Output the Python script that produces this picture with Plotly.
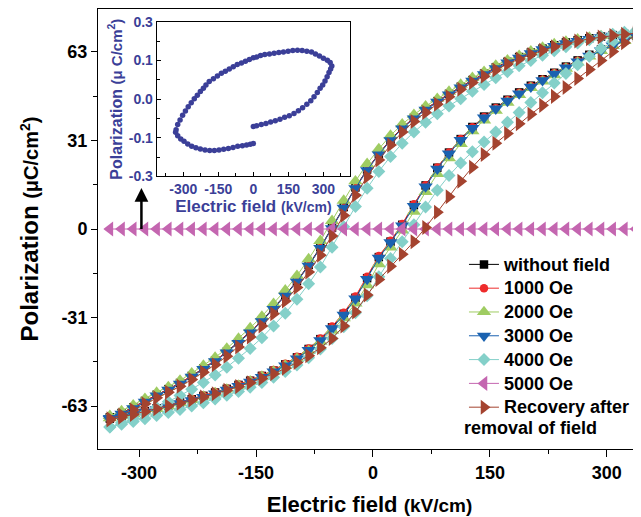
import plotly.graph_objects as go

FONT = "Liberation Sans, Arial, sans-serif"
NAVY = "#3b3f98"

# Electric field grid (kV/cm) shared by all main-plot loops
field = [-337.5, -322.5, -307.5, -292.5, -277.5, -262.5, -247.5, -232.5, -217.5, -202.5,
         -187.5, -172.5, -157.5, -142.5, -127.5, -112.5, -97.5, -82.5, -67.5, -52.5,
         -37.5, -22.5, -7.5, 7.5, 22.5, 37.5, 52.5, 67.5, 82.5, 97.5,
         112.5, 127.5, 142.5, 157.5, 172.5, 187.5, 202.5, 217.5, 232.5, 247.5,
         262.5, 277.5, 292.5, 307.5, 322.5, 337.5]

# Polarization (uC/cm2): "inc" = rising-field branch, "dec" = falling-field branch (both listed in field order)
nofield_inc = [-67.5, -66.6, -65.7, -64.8, -63.8, -62.8, -61.7, -60.6, -59.4, -58.2, -56.9, -55.5, -54.0, -52.3, -50.4, -48.2,
               -45.7, -42.7, -39.2, -35.0, -30.2, -24.5, -17.5, -10.0, -4.5, 1.5, 8.5, 15.5, 21.8, 27.2, 32.0, 36.3,
               40.0, 43.2, 46.0, 48.6, 51.0, 53.3, 55.6, 57.8, 60.0, 62.0, 63.9, 65.6, 67.3, 69.0]
nofield_dec = [-67.0, -65.5, -63.5, -61.2, -59.0, -57.0, -54.8, -52.3, -49.6, -46.8, -43.7, -40.3, -36.6, -32.6, -28.2, -23.5,
               -18.5, -12.8, -6.5, 0.5, 7.8, 14.8, 21.2, 26.8, 31.8, 36.0, 39.6, 42.7, 45.5, 48.1, 50.6, 53.0,
               55.3, 57.5, 59.5, 61.2, 62.8, 64.2, 65.4, 66.4, 67.2, 67.9, 68.5, 69.0, 69.4, 69.7]

oe1000_inc = [-67.3, -66.5, -65.5, -64.6, -63.7, -62.6, -61.6, -60.4, -59.3, -58.0, -56.8, -55.3, -53.8, -52.1, -50.2, -48.0,
              -45.5, -42.5, -39.0, -34.7, -29.8, -24.0, -17.0, -9.6, -4.2, 1.8, 8.8, 15.6, 21.9, 27.2, 32.0, 36.2,
              39.9, 43.1, 45.9, 48.5, 50.9, 53.2, 55.5, 57.7, 59.9, 61.9, 63.8, 65.5, 67.2, 68.9]
oe1000_dec = [-67.2, -65.6, -63.6, -61.3, -59.1, -57.1, -54.9, -52.4, -49.7, -46.9, -43.8, -40.4, -36.7, -32.7, -28.4, -23.7,
              -18.7, -13.0, -6.8, 0.2, 7.5, 14.6, 21.0, 26.7, 31.7, 35.9, 39.5, 42.6, 45.4, 48.0, 50.5, 52.9,
              55.2, 57.4, 59.4, 61.1, 62.7, 64.1, 65.3, 66.3, 67.1, 67.8, 68.4, 68.9, 69.3, 69.6]

oe2000_inc = [-67.3, -66.6, -65.8, -64.9, -64.0, -63.0, -61.9, -60.8, -59.6, -58.4, -57.1, -55.7, -54.2, -52.5, -50.7, -48.6,
              -46.2, -43.4, -40.1, -36.2, -31.7, -26.5, -20.0, -12.5, -6.5, -0.5, 6.2, 13.2, 19.6, 25.2, 30.3, 34.8,
              38.7, 42.1, 45.0, 47.7, 50.2, 52.5, 54.8, 57.1, 59.3, 61.4, 63.4, 65.2, 67.0, 68.8]
oe2000_dec = [-66.5, -64.8, -62.7, -60.4, -58.2, -56.2, -53.9, -51.3, -48.6, -45.7, -42.5, -39.0, -35.2, -31.1, -26.6, -21.8,
              -16.6, -10.7, -4.2, 2.9, 10.1, 17.0, 23.2, 28.5, 33.3, 37.3, 40.7, 43.7, 46.4, 48.9, 51.4, 53.8,
              56.0, 58.2, 60.1, 61.7, 63.3, 64.6, 65.8, 66.7, 67.5, 68.2, 68.7, 69.2, 69.5, 69.8]

oe3000_inc = [-67.7, -66.9, -66.0, -65.1, -64.2, -63.2, -62.1, -61.0, -59.8, -58.6, -57.3, -55.9, -54.4, -52.7, -50.8, -48.6,
              -46.1, -43.1, -39.6, -35.4, -30.6, -24.8, -17.8, -10.3, -4.8, 1.2, 8.1, 15.1, 21.4, 26.8, 31.6, 35.9,
              39.6, 42.8, 45.6, 48.2, 50.6, 52.9, 55.2, 57.4, 59.6, 61.6, 63.5, 65.3, 67.0, 68.7]
oe3000_dec = [-67.3, -65.8, -63.8, -61.5, -59.3, -57.3, -55.1, -52.6, -49.9, -47.1, -44.0, -40.6, -36.9, -32.9, -28.5, -23.8,
              -18.8, -13.1, -6.8, 0.2, 7.5, 14.5, 20.9, 26.5, 31.5, 35.7, 39.3, 42.4, 45.2, 47.8, 50.3, 52.7,
              55.0, 57.2, 59.2, 60.9, 62.5, 63.9, 65.1, 66.1, 66.9, 67.6, 68.2, 68.7, 69.1, 69.4]

oe4000_inc = [-70.5, -69.5, -68.5, -67.5, -66.4, -65.3, -64.2, -63.0, -61.8, -60.5, -59.2, -57.8, -56.3, -54.6, -52.8, -50.7,
              -48.4, -45.8, -42.7, -39.0, -34.8, -29.8, -23.8, -17.0, -10.5, -4.5, 1.5, 7.8, 13.8, 19.0, 23.5, 27.5,
              31.0, 34.5, 38.0, 41.5, 45.0, 48.5, 52.0, 55.3, 58.5, 61.5, 64.2, 66.6, 68.8, 70.6]
oe4000_dec = [-70.5, -69.0, -67.4, -65.5, -63.5, -61.5, -59.3, -57.0, -54.6, -52.0, -49.2, -46.0, -42.5, -38.7, -34.5, -30.0,
              -25.0, -19.5, -13.5, -6.5, 0.8, 8.0, 14.5, 20.5, 25.8, 30.5, 34.5, 38.0, 41.0, 43.8, 46.4, 49.0,
              51.4, 53.8, 56.0, 58.1, 60.0, 61.8, 63.4, 64.9, 66.2, 67.4, 68.4, 69.3, 70.0, 70.6]

oe5000 = [0.0, 0.0, 0.0, 0.0, 0.0, 0.0, 0.0, 0.0, 0.0, 0.0, 0.0, 0.0, 0.0, 0.0, 0.0, 0.0,
          0.0, 0.0, 0.0, 0.0, 0.0, 0.0, 0.0, 0.0, 0.0, 0.0, 0.0, 0.0, 0.0, 0.0, 0.0, 0.0,
          0.0, 0.0, 0.0, 0.0, 0.0, 0.0, 0.0, 0.0, 0.0, 0.0, 0.0, 0.0, 0.0, 0.0]

recovery_inc = [-68.0, -67.0, -66.0, -65.0, -64.0, -63.0, -62.0, -60.9, -59.8, -58.6, -57.4, -56.1, -54.7, -53.2, -51.5, -49.6,
                -47.5, -45.1, -42.3, -39.0, -34.5, -29.5, -23.5, -18.0, -13.3, -9.0, -4.5, 0.5, 6.0, 11.5, 17.0, 22.0,
                26.5, 30.5, 34.0, 37.5, 40.8, 44.0, 47.2, 50.4, 53.6, 56.8, 60.0, 63.2, 66.3, 69.2]
recovery_dec = [-67.5, -66.2, -64.4, -62.2, -60.1, -58.1, -56.0, -53.6, -51.0, -48.3, -45.3, -42.0, -38.4, -34.5, -30.2, -25.6,
                -20.8, -15.3, -9.3, -2.5, 4.8, 12.0, 18.6, 24.6, 29.9, 34.5, 38.3, 41.5, 44.4, 47.1, 49.7, 52.1,
                54.4, 56.6, 58.7, 60.5, 62.1, 63.6, 64.9, 66.0, 66.9, 67.7, 68.3, 68.9, 69.3, 69.7]

# Inset loop (measured path order)
inset_field = [0, 14, 34, 54, 74, 94, 114, 134, 154, 174, 193, 211, 229, 246, 260, 274, 286, 297, 307, 316, 324, 331, 336,
               329, 317, 300, 283, 266, 249, 229, 209, 189, 169, 149, 129, 109, 89, 69, 49, 31, 14, 0, -17, -34, -51,
               -69, -86, -103, -120, -137, -154, -171, -189, -203, -214, -227, -240, -253, -266, -279, -291, -303, -314,
               -324, -331, -333,
               -324, -311, -297, -281, -264, -246, -227, -207, -187, -167, -147, -127, -107, -87, -67, -47, -29, -13, 0]
inset_pol = [-0.071, -0.069, -0.066, -0.063, -0.059, -0.056, -0.052, -0.047, -0.043, -0.037, -0.030, -0.022, -0.013, -0.004,
             0.006, 0.017, 0.028, 0.037, 0.047, 0.058, 0.069, 0.078, 0.086,
             0.095, 0.101, 0.106, 0.112, 0.117, 0.122, 0.124, 0.126, 0.127, 0.126, 0.124, 0.122, 0.121, 0.119, 0.117,
             0.116, 0.113, 0.109, 0.107, 0.103, 0.098, 0.094, 0.090, 0.084, 0.078, 0.072, 0.067, 0.060, 0.053, 0.046,
             0.037, 0.028, 0.020, 0.010, 0.001, -0.009, -0.020, -0.031, -0.042, -0.054, -0.066, -0.079, -0.086,
             -0.095, -0.103, -0.109, -0.116, -0.122, -0.126, -0.129, -0.132, -0.133, -0.133, -0.132, -0.130, -0.128,
             -0.125, -0.122, -0.121, -0.119, -0.117, -0.115]

main_xticks = [-300, -150, 0, 150, 300]
main_xtext = ["-300", "-150", "0", "150", "300"]
main_yticks = [-63, -31.5, 0, 31.5, 63]
main_ytext = ["-63", "-31", "0", "31", "63"]
inset_xticks = [-300, -150, 0, 150, 300]
inset_xtext = ["-300", "-150", "0", "150", "300"]
inset_yticks = [-0.2, -0.1, 0.0, 0.1, 0.2]
inset_ytext = ["-0.3", "-0.1", "0.0", "0.1", "0.3"]

loops = [
    ("without field", "#000000", "square", 8.5, nofield_inc, nofield_dec),
    ("1000 Oe", "#ee2b2b", "circle", 8.5, oe1000_inc, oe1000_dec),
    ("2000 Oe", "#9fcc62", "triangle-up", 12.5, oe2000_inc, oe2000_dec),
    ("3000 Oe", "#1a62b0", "triangle-down", 12.5, oe3000_inc, oe3000_dec),
    ("4000 Oe", "#84d0c9", "diamond", 10, oe4000_inc, oe4000_dec),
]

fig = go.Figure()
for name, color, symbol, size, inc, dec in loops:
    fig.add_trace(go.Scatter(
        x=field + field[::-1], y=inc + dec[::-1], mode="lines+markers",
        name=f"<span style='font-size:18px'>{name}</span>",
        line=dict(color=color, width=1),
        marker=dict(symbol=symbol, size=size, color=color, line=dict(width=0)),
    ))

fig.add_trace(go.Scatter(
    x=field, y=oe5000, mode="lines+markers",
    name="<span style='font-size:18px'>5000 Oe</span>",
    line=dict(color="#c466b0", width=1),
    marker=dict(symbol="triangle-left", size=13, color="#c466b0", line=dict(width=0)),
))
fig.add_trace(go.Scatter(
    x=field + field[::-1], y=recovery_inc + recovery_dec[::-1], mode="lines+markers",
    name="<span style='font-size:18px'>Recovery after</span>",
    line=dict(color="#a4432f", width=1),
    marker=dict(symbol="triangle-right", size=13, color="#a4432f", line=dict(width=0)),
))

fig.add_trace(go.Scatter(
    x=inset_field, y=inset_pol, mode="markers", xaxis="x2", yaxis="y2", showlegend=False,
    marker=dict(symbol="circle", size=5.5, color=NAVY, line=dict(width=0)),
))

fig.update_layout(
    width=641, height=515,
    margin=dict(l=90, r=8, t=1, b=74),
    paper_bgcolor="white", plot_bgcolor="white",
    font=dict(family=FONT, color="black"),
    showlegend=True,
    legend=dict(x=0.674, y=0.458, xanchor="left", yanchor="top",
                font=dict(family=FONT, size=16, color="black", weight="bold"),
                bgcolor="rgba(0,0,0,0)", tracegroupgap=0),
    xaxis=dict(
        domain=[0, 1], range=[-352.7, 343.8], tickmode="array", tickvals=main_xticks, ticktext=main_xtext,
        automargin=False,
        ticks="outside", ticklen=7, tickwidth=1, tickcolor="black",
        minor=dict(tickmode="array", tickvals=[-225, -75, 75, 225], ticks="outside", ticklen=4, tickcolor="black"),
        showline=True, linecolor="black", linewidth=1, mirror=True,
        showgrid=False, zeroline=False,
        tickfont=dict(family=FONT, size=18, color="black", weight="bold"),
        title=dict(text="Electric field <span style='font-size:19px'>(kV/cm)</span>",
                   font=dict(family=FONT, size=22, color="black", weight="bold"), standoff=15),
    ),
    yaxis=dict(
        domain=[0, 1], range=[-78.3, 78.3], tickmode="array", tickvals=main_yticks, ticktext=main_ytext,
        automargin=False,
        ticks="outside", ticklen=6, tickwidth=1, tickcolor="black",
        minor=dict(tickmode="array", tickvals=[-47.25, -15.75, 15.75, 47.25], ticks="outside", ticklen=4, tickcolor="black"),
        showline=True, linecolor="black", linewidth=1, mirror=False,
        showgrid=False, zeroline=False,
        tickfont=dict(family=FONT, size=18, color="black", weight="bold"),
        title=dict(text="Polarization <span style='font-size:20px'>(μC/cm<sup>2</sup>)</span>",
                   font=dict(family=FONT, size=24, color="black", weight="bold"), standoff=15),
    ),
    xaxis2=dict(
        domain=[0.1081, 0.4641], anchor="y2", range=[-414, 414], tickmode="array", tickvals=inset_xticks,
        ticktext=inset_xtext, automargin=False,
        ticks="inside", ticklen=4, tickcolor="black",
        minor=dict(tickmode="array", tickvals=[-375, -225, -75, 75, 225, 375], ticks="inside", ticklen=3, tickcolor="black"),
        showline=True, linecolor="black", linewidth=1, mirror=True,
        showgrid=False, zeroline=False,
        tickfont=dict(family=FONT, size=14, color=NAVY, weight="bold"),
        title=dict(text="Electric field <span style='font-size:14px'>(kV/cm)</span>",
                   font=dict(family=FONT, size=17, color=NAVY, weight="bold"), standoff=2),
    ),
    yaxis2=dict(
        domain=[0.6197, 0.9705], anchor="x2", range=[-0.2, 0.2], tickmode="array",
        tickvals=inset_yticks, ticktext=inset_ytext, automargin=False,
        ticks="inside", ticklen=4, tickcolor="black",
        minor=dict(tickmode="array", tickvals=[-0.15, -0.05, 0.05, 0.15], ticks="inside", ticklen=3, tickcolor="black"),
        showline=True, linecolor="black", linewidth=1, mirror=True,
        showgrid=False, zeroline=False,
        tickfont=dict(family=FONT, size=14, color=NAVY, weight="bold"),
        title=dict(text="Polarization <span style='font-size:15px'>(μ C/cm<sup>2</sup>)</span>",
                   font=dict(family=FONT, size=16, color=NAVY, weight="bold"), standoff=2),
    ),
    annotations=[
        dict(text="removal of field", x=0.6703, y=0.0476, xref="paper", yref="paper",
             xanchor="left", yanchor="middle", showarrow=False,
             font=dict(family=FONT, size=18, color="black", weight="bold")),
        dict(text="", x=-297, y=14.6, ax=-297, ay=-0.5, xref="x", yref="y", axref="x", ayref="y",
             showarrow=True, arrowhead=2, arrowsize=1.1, arrowwidth=2.5, arrowcolor="black"),
    ],
)

fig.write_html("out.html")
